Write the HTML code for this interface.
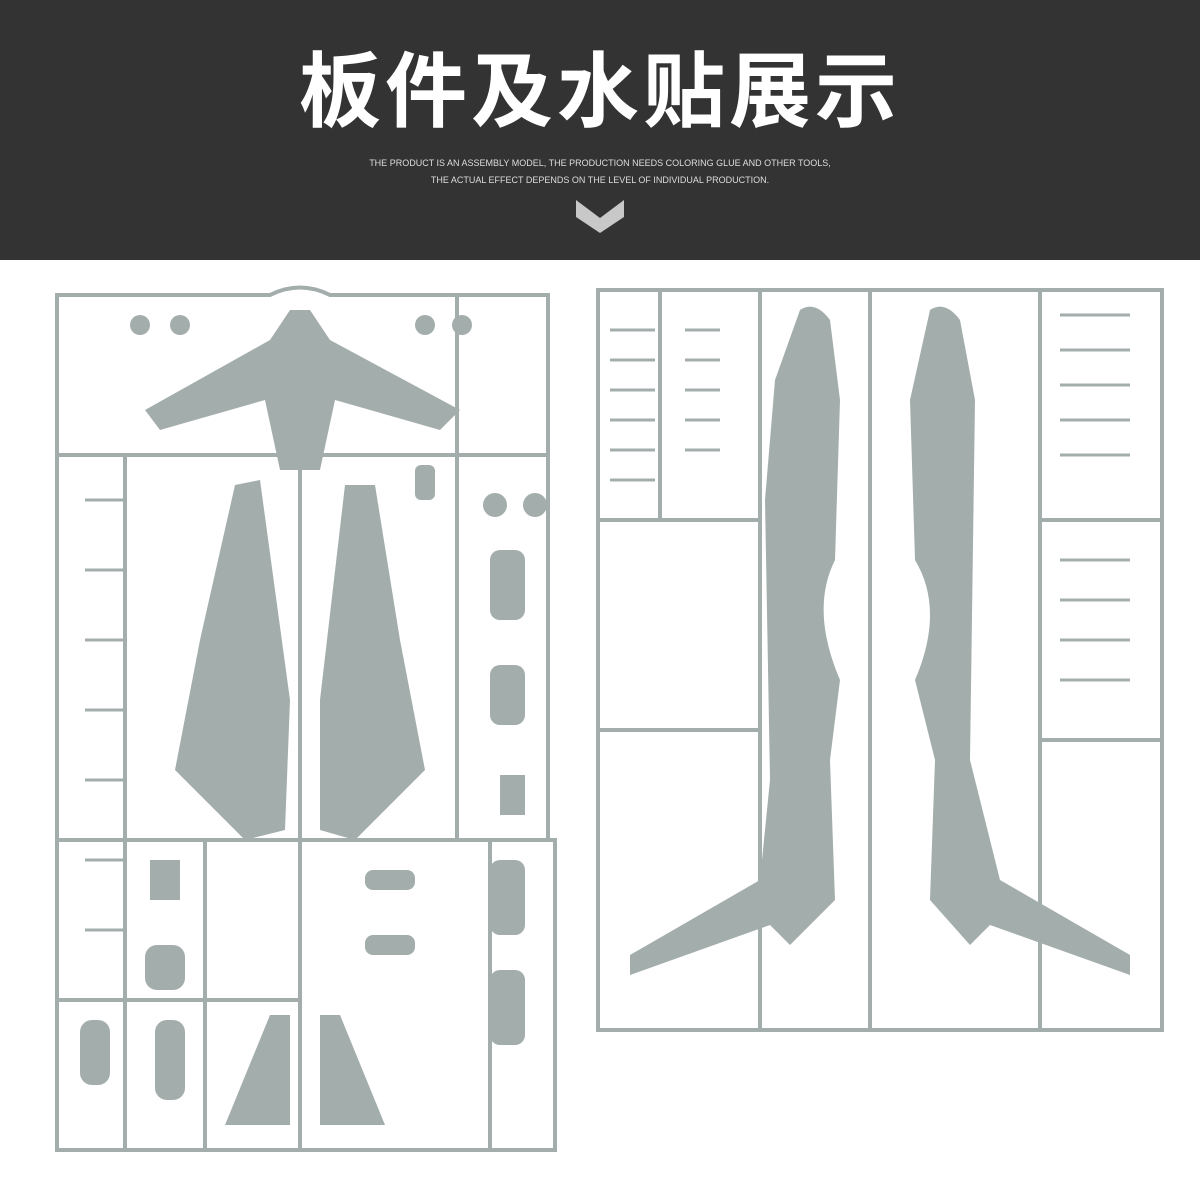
<!DOCTYPE html><html><head><style>body{margin:0;width:1200px;height:1200px;background:#fff;overflow:hidden;font-family:"Liberation Sans","Noto Sans CJK SC",sans-serif}
.h{position:absolute;left:0;top:0;width:1200px;height:260px;background:#333}
.t{position:absolute;top:38px;width:1200px;text-align:center;color:#fff;font-size:82px;font-weight:bold;letter-spacing:4px;line-height:110px}
.s{position:absolute;width:1200px;text-align:center;color:#ddd;font-size:9px}
</style></head><body>
<div class="h"></div>
<div class="t">板件及水贴展示</div>
<div class="s" style="top:158px">THE PRODUCT IS AN ASSEMBLY MODEL, THE PRODUCTION NEEDS COLORING GLUE AND OTHER TOOLS,</div>
<div class="s" style="top:175px">THE ACTUAL EFFECT DEPENDS ON THE LEVEL OF INDIVIDUAL PRODUCTION.</div>
<svg style="position:absolute;left:0;top:0" width="1200" height="1200">
<polygon points="576,200 600,218 624,200 624,217 600,233 576,217" fill="#c8c8c8"/>
<g fill="none" stroke="#a3aeac" stroke-width="4">
<path d="M57,295 H270 Q300,280 330,295 H548 V840 H555 V1150 H57 V295 Z"/>
<path d="M57,455 H548 M57,840 H548 M300,455 V1150 M57,1000 H300 M205,840 V1150 M457,295 V840"/>
<path d="M125,455 V1150 M490,840 V1150"/>
<path d="M598,290 H1162 V1030 H598 Z M598,520 H760 M598,730 H760 M1040,290 V1030 M870,290 V1030 M1040,520 H1162 M1040,740 H1162 M660,290 V520 M760,290 V1030"/>
</g>
<g stroke="#a3aeac" stroke-width="3">
<path d="M85,500 H125 M85,570 H125 M85,640 H125 M85,710 H125 M85,780 H125 M85,860 H125 M85,930 H125"/>
<path d="M685,330 H720 M685,360 H720 M685,390 H720 M685,420 H720 M685,450 H720 M1060,315 H1130 M1060,350 H1130 M1060,385 H1130 M1060,420 H1130 M1060,455 H1130 M1060,560 H1130 M1060,600 H1130 M1060,640 H1130 M1060,680 H1130"/>
<path d="M610,330 H655 M610,360 H655 M610,390 H655 M610,420 H655 M610,450 H655 M610,480 H655"/>
</g>
<g fill="#a3aeac">
<path d="M145,410 L270,340 L290,310 L310,310 L330,340 L460,410 L440,430 L335,400 L320,470 L280,470 L265,400 L160,430 Z"/>
<path d="M235,485 L260,480 L290,700 L285,830 L245,840 L175,770 L200,640 Z"/>
<path d="M345,485 L375,485 L400,640 L425,770 L355,840 L320,830 L320,700 Z"/>
<path d="M800,310 Q815,300 830,320 L840,400 L835,560 Q810,610 840,680 L830,760 L835,900 L790,945 L770,925 L630,975 L630,955 L760,880 L770,780 L765,500 L775,380 Z"/>
<path d="M930,310 Q945,300 960,320 L975,400 L970,760 L1000,880 L1130,955 L1130,975 L990,925 L970,945 L930,900 L935,760 L915,680 Q945,610 915,560 L910,400 Z"/>
<path d="M270,1015 L290,1015 L290,1125 L225,1125 Z"/>
<path d="M320,1015 L340,1015 L385,1125 L320,1125 Z"/>
<rect x="490" y="550" width="35" height="70" rx="10"/><rect x="490" y="665" width="35" height="60" rx="10"/>
<rect x="490" y="860" width="35" height="75" rx="10"/><rect x="490" y="970" width="35" height="75" rx="10"/>
<rect x="500" y="775" width="25" height="40"/><rect x="145" y="945" width="40" height="45" rx="12"/>
<rect x="80" y="1020" width="30" height="65" rx="12"/><rect x="155" y="1020" width="30" height="80" rx="12"/>
<rect x="365" y="870" width="50" height="20" rx="8"/><rect x="365" y="935" width="50" height="20" rx="8"/>
<rect x="415" y="465" width="20" height="35" rx="6"/><rect x="150" y="860" width="30" height="40"/>
<circle cx="140" cy="325" r="10"/><circle cx="180" cy="325" r="10"/><circle cx="425" cy="325" r="10"/><circle cx="462" cy="325" r="10"/>
<circle cx="495" cy="505" r="12"/><circle cx="535" cy="505" r="12"/>
</g>
<text x="443" y="640" font-size="16" fill="#fff" font-weight="bold">A</text>
<text x="880" y="1010" font-size="16" fill="#fff" font-weight="bold">E</text>
</svg>
</body></html>
